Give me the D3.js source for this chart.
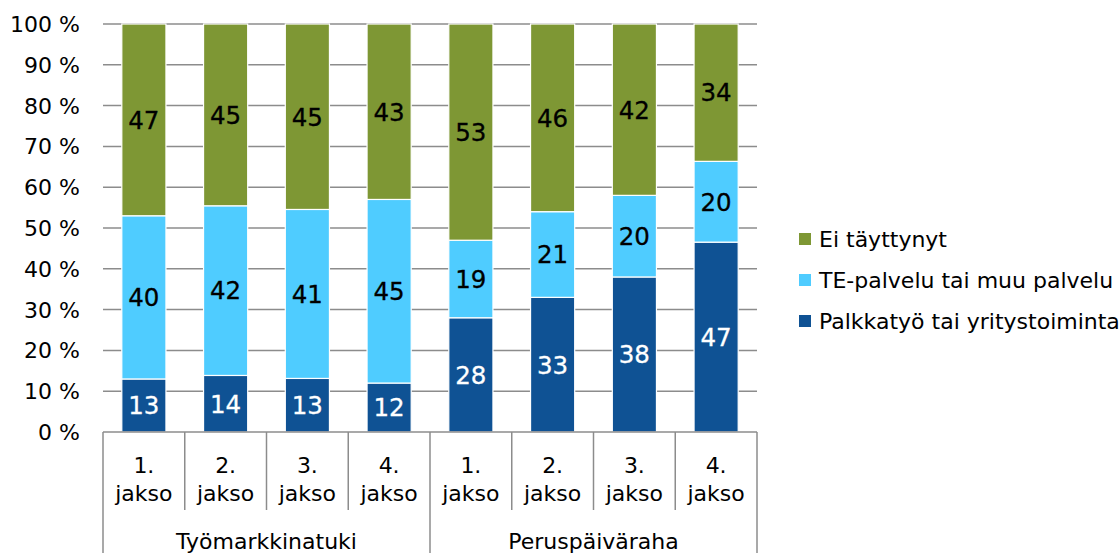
<!DOCTYPE html>
<html><head><meta charset="utf-8">
<script src="https://cdn.jsdelivr.net/npm/d3@7"></script>
<style>body{margin:0;background:#fff;} text{font-family:"DejaVu Sans",Verdana,sans-serif;}</style>
</head><body><svg id="c" width="1120" height="553"></svg>
<script>
const categories = ["1. jakso","2. jakso","3. jakso","4. jakso","1. jakso","2. jakso","3. jakso","4. jakso"];
const groups = ["Työmarkkinatuki","Peruspäiväraha"];
const palkkatyo = [13,14,13,12,28,33,38,47];
const tePalvelu = [40,42,41,45,19,21,20,20];
const eiTayttynyt = [47,45,45,43,53,46,42,34];
const seriesNames = ["Palkkatyö tai yritystoiminta","TE-palvelu tai muu palvelu","Ei täyttynyt"];
const seriesColors = ["#0F5294","#4FCCFF","#7E9734"];
const labelColors = ["#fff","#000","#000"];
const yTicks = [0,10,20,30,40,50,60,70,80,90,100];

(function(){
const svg = d3.select("#c");
const pL=103, pR=757, pT=24, pB=432;
const x = d3.scaleBand().domain(d3.range(categories.length)).range([pL,pR]).paddingInner(0.46).paddingOuter(0.23);
const y = d3.scaleLinear().domain([0,100]).range([pB,pT]);

svg.append("g").selectAll("line").data(yTicks.slice(1)).join("line")
  .attr("x1",pL).attr("x2",pR).attr("y1",d=>y(d)).attr("y2",d=>y(d))
  .attr("stroke","#8c8c8c").attr("stroke-width",1.5);

svg.append("g").selectAll("text").data(yTicks).join("text")
  .attr("x",80).attr("y",d=>y(d)).attr("dy","0.36em").attr("text-anchor","end")
  .attr("font-size",22).attr("fill","#000").text(d=>d+" %");

const raw = [palkkatyo,tePalvelu,eiTayttynyt];
const rows = categories.map((c,i)=>{const t=raw[0][i]+raw[1][i]+raw[2][i];return {i, s0:raw[0][i]/t*100, s1:raw[1][i]/t*100, s2:raw[2][i]/t*100};});
const stack = d3.stack().keys(["s0","s1","s2"])(rows);

stack.forEach((layer,k)=>{
  const g = svg.append("g");
  g.selectAll("rect").data(layer).join("rect")
    .attr("x",d=>x(d.data.i)).attr("width",x.bandwidth())
    .attr("y",d=>y(d[1])).attr("height",d=>y(d[0])-y(d[1]))
    .attr("fill",seriesColors[k]).attr("stroke","#fff").attr("stroke-width",1.2);
  g.selectAll("text").data(layer).join("text")
    .attr("x",d=>x(d.data.i)+x.bandwidth()/2).attr("y",d=>y((d[0]+d[1])/2)).attr("dy","0.36em")
    .attr("text-anchor","middle").attr("font-size",24.5).attr("fill",labelColors[k])
    .attr("stroke",labelColors[k]).attr("stroke-width",0.3)
    .text((d,j)=>raw[k][j]);
});

svg.append("line").attr("x1",pL).attr("x2",pR).attr("y1",pB).attr("y2",pB).attr("stroke","#8c8c8c").attr("stroke-width",1.5);
const step = x.step();
const seps = d3.range(categories.length+1);
svg.append("g").selectAll("line").data(seps).join("line")
  .attr("x1",d=>pL+d*step).attr("x2",d=>pL+d*step)
  .attr("y1",pB).attr("y2",d=>(d%4===0)?553:510)
  .attr("stroke","#8c8c8c").attr("stroke-width",1.5);
const cl = svg.append("g").selectAll("text").data(categories).join("text")
  .attr("text-anchor","middle").attr("font-size",22).attr("fill","#000");
cl.each(function(d,i){
  const parts=d.split(" ");
  const cx = x(i)+x.bandwidth()/2;
  d3.select(this).append("tspan").attr("x",cx).attr("y",473).text(parts[0]);
  d3.select(this).append("tspan").attr("x",cx).attr("y",501).text(parts[1]);
});
svg.append("g").selectAll("text").data(groups).join("text")
  .attr("x",(d,i)=>pL+(i*4+2)*step).attr("y",549).attr("text-anchor","middle")
  .attr("font-size",22).attr("fill","#000").text(d=>d);

const legOrder=[2,1,0];
const lg = svg.append("g").selectAll("g").data(legOrder).join("g")
  .attr("transform",(d,i)=>`translate(799,${239+i*41})`);
lg.append("rect").attr("x",0).attr("y",-6).attr("width",12).attr("height",12).attr("fill",d=>seriesColors[d]);
lg.append("text").attr("x",20).attr("dy","0.36em").attr("font-size",22).attr("fill","#000").text(d=>seriesNames[d]);
})();
</script></body></html>
